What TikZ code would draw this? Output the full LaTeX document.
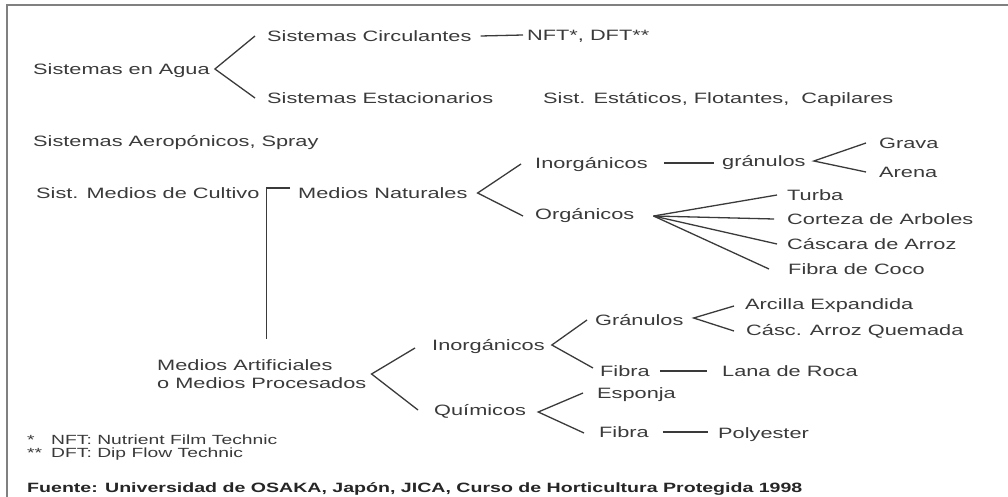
\documentclass[tikz,border=0pt]{standalone}
\usepackage{fontspec}
\setmainfont{Liberation Sans}[FakeStretch=1.45]
\definecolor{ink}{HTML}{3A3A3A}
\definecolor{rule}{HTML}{808080}
\begin{document}
\begin{tikzpicture}[x=1pt,y=-1pt,
  lbl/.style={anchor=west, inner sep=0pt, text height=10.8pt, text depth=0pt, text=ink, font=\fontsize{15}{18}\selectfont},
  twolbl/.style={anchor=west, inner sep=0pt, align=left, text=ink, font=\fontsize{15}{18}\selectfont},
  note/.style={anchor=west, inner sep=0pt, text height=9.6pt, text depth=0pt, text=ink, font=\fontsize{13.3}{16}\selectfont},
  src/.style={anchor=west, inner sep=0pt, text height=9.6pt, text depth=0pt, text=black!85, font=\fontsize{13.5}{16}\selectfont\bfseries},
  link/.style={draw=ink, line width=1.3pt}]
\useasboundingbox (0,0) rectangle (1008,497);
\draw[draw=rule, line width=2.5pt] (7,497) -- (7,5) -- (1008,5);
\node[lbl] (agua) at (33,69){Sistemas en Agua};
\node[lbl] (circ) at (267,36){Sistemas Circulantes};
\node[lbl] (nft) at (527,35){NFT*, DFT**};
\node[lbl] (estac) at (267,98){Sistemas Estacionarios};
\node[lbl] (estat) at (543,98){Sist. Estáticos, Flotantes,\ \ Capilares};
\draw[link]([xshift=-12pt]circ.west) -- ([xshift=5pt]agua.east) -- ([xshift=-12pt]estac.west);
\draw[link]([xshift=9pt]circ.east) -- ([xshift=-4pt]nft.west);
\node[lbl] (aero) at (33,141){Sistemas Aeropónicos, Spray};
\node[lbl] (cult) at (36,193){Sist. Medios de Cultivo};
\node[lbl] (nat) at (298,193){Medios Naturales};
\node[twolbl] (artif) at (157,374){Medios Artificiales\\o Medios Procesados};
\coordinate (cultjoin) at ([xshift=7pt,yshift=5pt]cult.east);
\draw[link]([xshift=-8pt]nat.west |- cultjoin) -- (cultjoin) -- ([yshift=20pt]cultjoin |- artif.north);
\node[lbl] (inorgA) at (535,163){Inorgánicos};
\node[lbl] (orgA) at (535,214){Orgánicos};
\draw[link]([xshift=-14pt,yshift=-1pt]inorgA.west) -- ([xshift=10pt]nat.east) -- ([xshift=-12pt,yshift=-2pt]orgA.west);
\node[lbl] (gran) at (722,161){gránulos};
\draw[link]([xshift=16pt]inorgA.east) -- ([xshift=-8pt]gran.west |- inorgA.east);
\node[lbl] (grava) at (879,143){Grava};
\node[lbl] (arena) at (879,172){Arena};
\draw[link]([xshift=-13pt]grava.west) -- ([xshift=8pt]gran.east) -- ([xshift=-13pt]arena.west);
\node[lbl] (turba) at (787,195){Turba};
\node[lbl] (corteza) at (787,219){Corteza de Arboles};
\node[lbl] (cascara) at (787,244){Cáscara de Arroz};
\node[lbl] (coco) at (788,269){Fibra de Coco};
\coordinate (fan) at ([xshift=19pt,yshift=-2pt]orgA.east);
\foreach \n/\d in {turba/10,corteza/13,cascara/10,coco/19}
  \draw[link](fan) -- ([xshift=-\d pt]\n.west);
\node[lbl] (inorgB) at (432,345){Inorgánicos};
\node[lbl] (quim) at (434,410){Químicos};
\draw[link]([xshift=-17pt,yshift=-3pt]inorgB.west) -- ([xshift=5pt]artif.east) -- ([xshift=-16pt]quim.west);
\node[lbl] (granB) at (595,320){Gránulos};
\node[lbl] (fibraA) at (600,371){Fibra};
\draw[link]([xshift=-8pt]granB.west) -- ([xshift=7pt]inorgB.east) -- ([xshift=-7pt,yshift=3pt]fibraA.west);
\node[lbl] (arcilla) at (745,304){Arcilla Expandida};
\node[lbl] (quemada) at (746,330){Cásc. Arroz Quemada};
\draw[link]([xshift=-11pt,yshift=-2pt]arcilla.west) -- ([xshift=10pt,yshift=2pt]granB.east) -- ([xshift=-12pt,yshift=-1pt]quemada.west);
\node[lbl] (lana) at (722,371){Lana de Roca};
\draw[link]([xshift=10pt]fibraA.east) -- ([xshift=-15pt]lana.west);
\node[lbl] (esponja) at (597,393){Esponja};
\node[lbl] (fibraB) at (599,432){Fibra};
\draw[link]([xshift=-14pt]esponja.west) -- ([xshift=12pt,yshift=-2pt]quim.east) -- ([xshift=-15pt,yshift=-1pt]fibraB.west);
\node[lbl] (poly) at (718,433){Polyester};
\draw[link]([xshift=14pt]fibraB.east) -- ([xshift=-10pt]poly.west |- fibraB.east);
\node[note] (fnA) at (27,440){\makebox[24pt][l]{*}NFT: Nutrient Film Technic};
\node[note] (fnB) at (27,453){\makebox[24pt][l]{**}DFT: Dip Flow Technic};
\node[src] (fuente) at (27,488){Fuente: Universidad de OSAKA, Japón, JICA, Curso de Horticultura Protegida 1998};
\end{tikzpicture}
\end{document}
